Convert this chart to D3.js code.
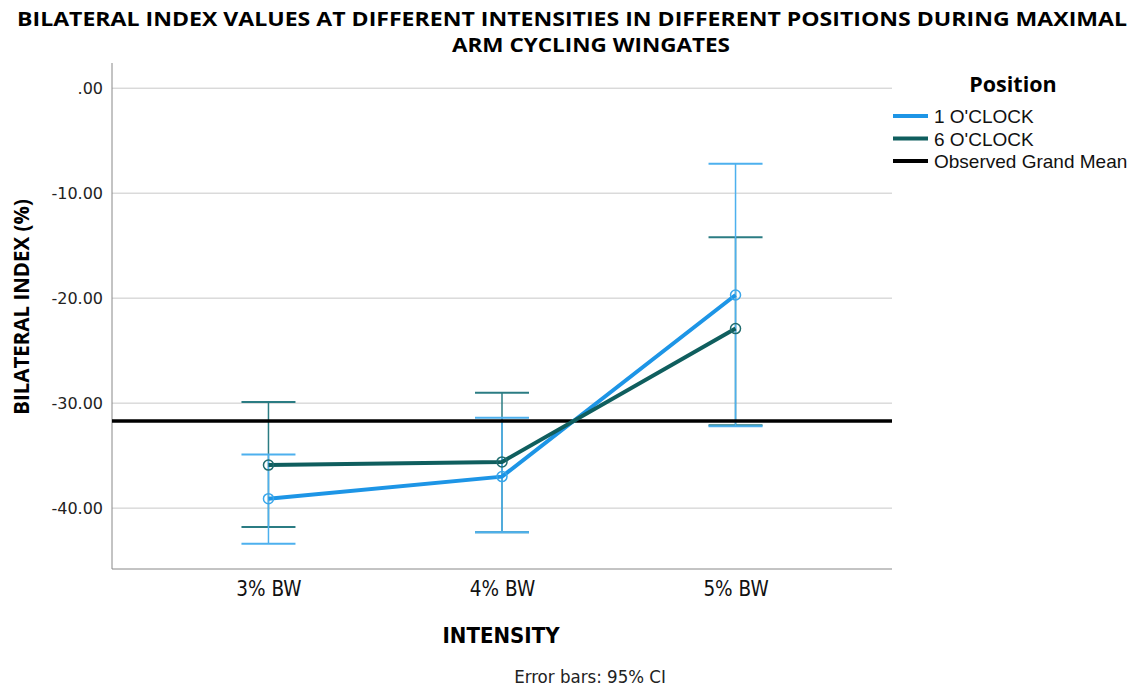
<!DOCTYPE html>
<html>
<head>
<meta charset="utf-8">
<script src="https://cdn.jsdelivr.net/npm/d3@7"></script>
<style>
  body { margin: 0; background: #fff; }
  svg { display: block; }
</style>
</head>
<body>
<svg id="chart" width="1140" height="690"></svg>
<script>
// Intensity categories on the x axis
const intensities = ["3% BW", "4% BW", "5% BW"];
// Mean bilateral index (%) per position
const mean1 = [-39.1, -37.0, -19.7];
const mean6 = [-35.9, -35.6, -22.9];
// 95% confidence interval bounds
const lower1 = [-43.4, -42.3, -32.2];
const upper1 = [-34.9, -31.4, -7.2];
const lower6 = [-41.8, -42.3, -32.1];
const upper6 = [-29.9, -29.0, -14.2];
const grandMean = -31.7;
const yTicks = [0, -10, -20, -30, -40];

const series = [
  { name: "1 O'CLOCK", mean: mean1, lo: lower1, hi: upper1, line: "#1d95e6", bar: "#4db0ee", dot: "#3aa6ea" },
  { name: "6 O'CLOCK", mean: mean6, lo: lower6, hi: upper6, line: "#0f5e5e", bar: "#2b7c83", dot: "#1f6b6d" }
];

const svg = d3.select("#chart");
const plot = { left: 112, right: 892, top: 63, bottom: 569 };
const sans = "Liberation Sans, Arial, sans-serif";
const heading = "Open Sans, Liberation Sans, sans-serif";
const cond = "DejaVu Sans Condensed, DejaVu Sans, sans-serif";

const x = d3.scalePoint().domain(intensities).range([plot.left, plot.right]).padding(0.67);
const y = d3.scaleLinear().domain([-45.8, 2.4]).range([plot.bottom, plot.top]);

// gridlines
svg.append("g").selectAll("line").data(yTicks).join("line")
  .attr("x1", plot.left).attr("x2", plot.right)
  .attr("y1", d => y(d)).attr("y2", d => y(d))
  .attr("stroke", "#c8c8c8").attr("stroke-width", 1);

// axes frame
svg.append("line").attr("x1", plot.left).attr("x2", plot.left).attr("y1", plot.top).attr("y2", plot.bottom)
  .attr("stroke", "#888").attr("stroke-width", 1);
svg.append("line").attr("x1", plot.left).attr("x2", plot.right).attr("y1", plot.bottom).attr("y2", plot.bottom)
  .attr("stroke", "#888").attr("stroke-width", 1);

// y axis
const yAxis = d3.axisLeft(y).tickValues(yTicks)
  .tickFormat(d => d === 0 ? ".00" : d3.format(".2f")(d).replace("−", "-"))
  .tickSize(0).tickPadding(9);
const ya = svg.append("g").attr("transform", `translate(${plot.left},0)`).call(yAxis);
ya.select(".domain").remove();
ya.selectAll("text").attr("font-family", "DejaVu Sans, sans-serif").attr("font-size", 16).attr("fill", "#222");

// x axis
const xAxis = d3.axisBottom(x).tickSize(0).tickPadding(12);
const xa = svg.append("g").attr("transform", `translate(0,${plot.bottom})`).call(xAxis);
xa.select(".domain").remove();
xa.selectAll("text").attr("font-family", cond).attr("font-size", 20.5).attr("fill", "#111");

// error bars
const capHalf = 27;
series.slice().reverse().forEach(s => {
  const g = svg.append("g");
  intensities.forEach((c, i) => {
    const cx = x(c);
    g.append("line").attr("x1", cx).attr("x2", cx).attr("y1", y(s.lo[i])).attr("y2", y(s.hi[i]))
      .attr("stroke", s.bar).attr("stroke-width", 1.5);
    [s.lo[i], s.hi[i]].forEach(v => {
      g.append("line").attr("x1", cx - capHalf).attr("x2", cx + capHalf).attr("y1", y(v)).attr("y2", y(v))
        .attr("stroke", s.bar).attr("stroke-width", 2);
    });
  });
});

// grand mean reference line
svg.append("line").attr("x1", plot.left).attr("x2", plot.right)
  .attr("y1", y(grandMean)).attr("y2", y(grandMean))
  .attr("stroke", "#000").attr("stroke-width", 3.5);

// mean lines and markers
const lineGen = d3.line().x((d, i) => x(intensities[i])).y(d => y(d));
series.forEach(s => {
  svg.append("path").datum(s.mean).attr("d", lineGen)
    .attr("fill", "none").attr("stroke", s.line).attr("stroke-width", 4);
});
series.forEach(s => {
  svg.append("g").selectAll("circle").data(s.mean).join("circle")
    .attr("cx", (d, i) => x(intensities[i])).attr("cy", d => y(d)).attr("r", 5)
    .attr("fill", "none").attr("stroke", s.dot).attr("stroke-width", 1.5);
});

// two-line chart title
const title = svg.append("text").attr("text-anchor", "middle")
  .attr("font-family", heading).attr("font-weight", "bold").attr("font-size", 19);
title.append("tspan").attr("x", 572).attr("y", 25.5)
  .attr("textLength", 1110).attr("lengthAdjust", "spacingAndGlyphs")
  .text("BILATERAL INDEX VALUES AT DIFFERENT INTENSITIES IN DIFFERENT POSITIONS DURING MAXIMAL");
title.append("tspan").attr("x", 591).attr("y", 51.5)
  .attr("textLength", 278).attr("lengthAdjust", "spacingAndGlyphs")
  .text("ARM CYCLING WINGATES");

svg.append("text").attr("transform", `translate(29,307) rotate(-90)`)
  .attr("text-anchor", "middle").attr("font-family", heading)
  .attr("font-weight", "bold").attr("font-size", 20.5).text("BILATERAL INDEX (%)");

svg.append("text").attr("x", 501).attr("y", 643).attr("text-anchor", "middle")
  .attr("font-family", cond).attr("font-weight", "bold").attr("font-size", 22)
  .text("INTENSITY");

svg.append("text").attr("x", 590).attr("y", 683).attr("text-anchor", "middle")
  .attr("font-family", cond).attr("font-size", 18.5).attr("fill", "#222")
  .text("Error bars: 95% CI");

// legend
const legend = svg.append("g");
legend.append("text").attr("x", 1013).attr("y", 92).attr("text-anchor", "middle")
  .attr("font-family", heading).attr("font-weight", "bold").attr("font-size", 21.5)
  .text("Position");
const legendItems = [
  { name: series[0].name, color: series[0].line },
  { name: series[1].name, color: series[1].line },
  { name: "Observed Grand Mean", color: "#000" }
];
legend.selectAll("g.item").data(legendItems).join("g").attr("class", "item")
  .attr("transform", (d, i) => `translate(0,${116 + i * 22.5})`)
  .each(function (d) {
    const g = d3.select(this);
    g.append("line").attr("x1", 893).attr("x2", 928).attr("y1", 0).attr("y2", 0)
      .attr("stroke", d.color).attr("stroke-width", 4);
    g.append("text").attr("x", 934).attr("y", 7)
      .attr("font-family", sans).attr("font-size", 19).attr("fill", "#111")
      .text(d.name);
  });
</script>
</body>
</html>
